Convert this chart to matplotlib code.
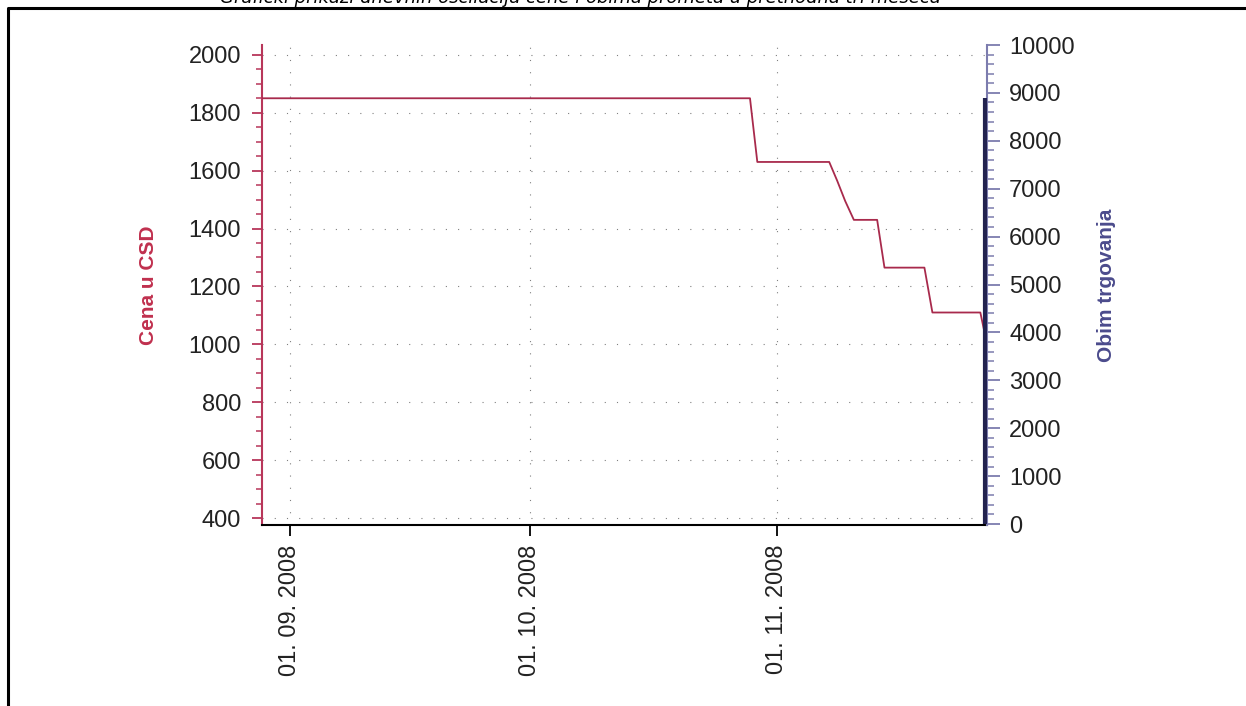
import matplotlib
matplotlib.use("Agg")
import matplotlib.pyplot as plt
import matplotlib.dates as mdates
from matplotlib.ticker import MultipleLocator
from matplotlib.lines import Line2D
import pandas as pd

# Price change points (CSD)
price_dates = ['2008-08-28 00:00', '2008-10-28 14:00', '2008-10-29 12:00', '2008-11-07 12:00',
               '2008-11-08 12:00', '2008-11-09 12:00', '2008-11-10 14:00', '2008-11-13 12:00',
               '2008-11-14 10:00', '2008-11-19 10:00', '2008-11-20 10:00', '2008-11-26 10:00',
               '2008-11-27 06:00']
prices = [1850, 1850, 1630, 1630, 1565, 1495, 1430, 1430, 1265, 1265, 1110, 1110, 1000]

# Trading volume (only one day with volume visible)
volume_dates = ['2008-11-27']
volumes = [8900]

month_ticks = ['2008-09-01', '2008-10-01', '2008-11-01']

title = "Grafički prikazi dnevnih oscilacija cene i obima prometa u prethodna tri meseca"
left_label = "Cena u CSD"
right_label = "Obim trgovanja"

price_color = '#a82a4c'
left_axis_color = '#b8365a'
right_axis_color = '#7c7cae'
volume_color = '#22224f'
tick_text = '#222222'

plt.rcParams['font.family'] = ['Liberation Sans', 'DejaVu Sans']

fig = plt.figure(figsize=(12.46, 7.06), dpi=100)
ax = fig.add_axes([262 / 1246, 1 - 525 / 706, (987 - 262) / 1246, (525 - 45) / 706])
ax2 = ax.twinx()

pd_dates = pd.to_datetime(price_dates, format='%Y-%m-%d %H:%M')
ax.plot(pd_dates, prices, color=price_color, lw=1.3, zorder=3)

vd = pd.to_datetime(volume_dates)
ax2.vlines(vd, 0, volumes, color=volume_color, lw=3, zorder=4)

ax.set_xlim(pd.Timestamp('2008-08-28 12:00'), pd.Timestamp('2008-11-27 06:00'))
ax.set_ylim(376, 2034)
ax2.set_ylim(-20, 10000)

# x axis
ax.set_xticks(pd.to_datetime(month_ticks))
ax.xaxis.set_major_formatter(mdates.DateFormatter('%d. %m. %Y'))
ax.tick_params(axis='x', direction='out', length=8, width=1.3, color='black',
               labelsize=17, labelcolor=tick_text, labelrotation=90, pad=6)

# left axis
ax.yaxis.set_major_locator(MultipleLocator(200))
ax.yaxis.set_minor_locator(MultipleLocator(50))
ax.tick_params(axis='y', which='major', direction='out', length=7, width=1.3,
               color=left_axis_color, labelsize=17, labelcolor=tick_text, pad=8)
ax.tick_params(axis='y', which='minor', direction='out', length=4, width=1.1,
               color=left_axis_color)

# right axis
ax2.yaxis.set_major_locator(MultipleLocator(1000))
ax2.yaxis.set_minor_locator(MultipleLocator(200))
ax2.tick_params(axis='y', which='major', direction='out', length=9, width=1.3,
                color=right_axis_color, labelsize=17, labelcolor=tick_text, pad=7)
ax2.tick_params(axis='y', which='minor', direction='out', length=5, width=1.1,
                color=right_axis_color)

for a in (ax, ax2):
    a.spines['top'].set_visible(False)
ax.spines['right'].set_visible(False)
ax2.spines['left'].set_visible(False)
ax2.spines['bottom'].set_visible(False)
ax.spines['left'].set_color(left_axis_color)
ax.spines['left'].set_linewidth(1.5)
ax.spines['bottom'].set_color('black')
ax.spines['bottom'].set_linewidth(1.5)
ax2.spines['right'].set_color(right_axis_color)
ax2.spines['right'].set_linewidth(1.5)

ax.grid(True, which='major', color='#808080', lw=0.8, linestyle=(0, (1, 10)))

ax.set_ylabel(left_label, color='#c0304e', fontsize=15, fontweight='bold', labelpad=22)
ax2.set_ylabel(right_label, color='#4b4b8c', fontsize=15, fontweight='bold', labelpad=16)

# frame and title (title is partly above the top edge, as in the original page)
fig.add_artist(Line2D([8 / 1246, 8 / 1246, 1.0], [0.0, 1 - 7.5 / 706, 1 - 7.5 / 706],
                      transform=fig.transFigure, color='black', lw=2.2))
fig.text(580 / 1246, 1 - 3 / 706, title, ha='center', va='baseline',
         fontsize=13, fontstyle='italic', family='DejaVu Sans', color='black')

fig.savefig('out.png', dpi=100)
